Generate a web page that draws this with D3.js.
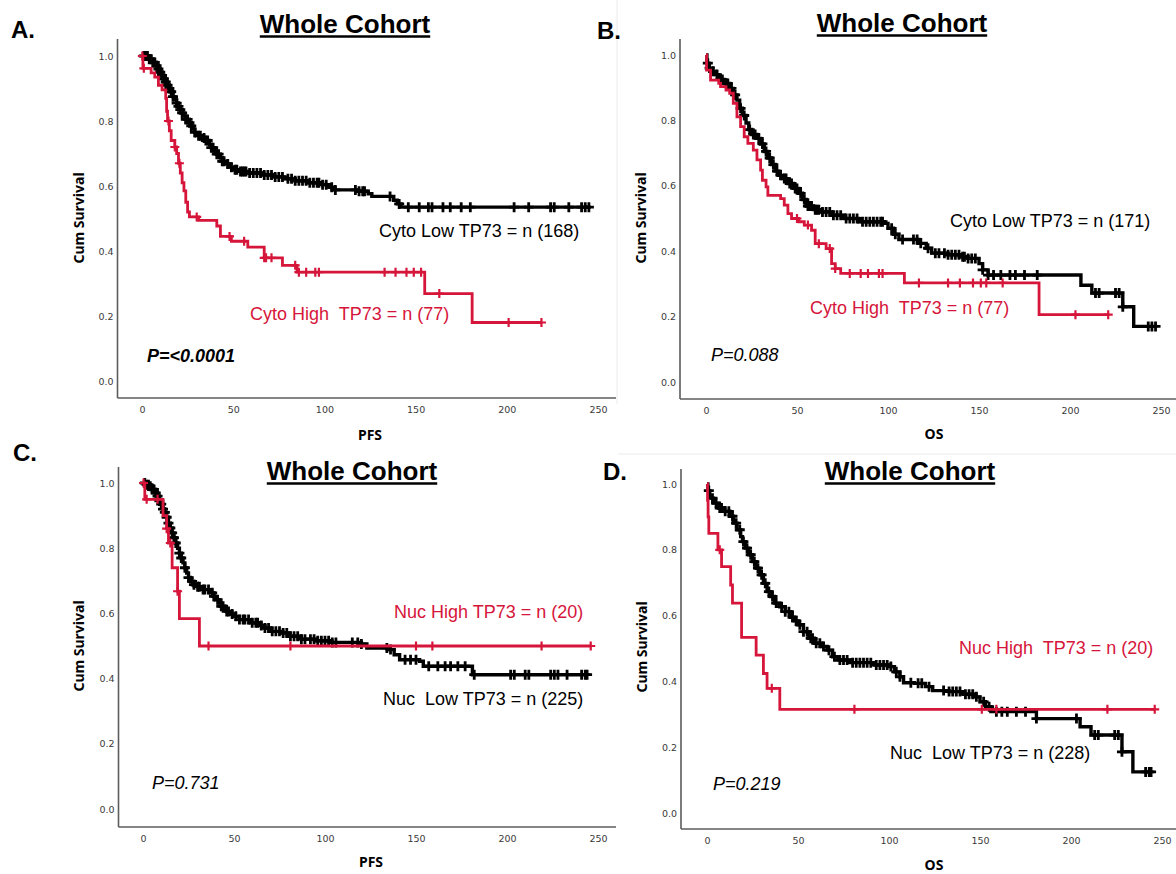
<!DOCTYPE html>
<html>
<head>
<meta charset="utf-8">
<script src="https://cdn.jsdelivr.net/npm/d3@7"></script>
<style>
  body { margin: 0; background: #fff; }
  svg { display: block; }
</style>
</head>
<body>
<div id="chart"></div>
<script>
// Axis ticks shared by all four plots
const xTicks = [0, 50, 100, 150, 200, 250];
const yTicks = [0, 0.2, 0.4, 0.6, 0.8, 1.0];

// Text
const panelLetters = ['A.', 'B.', 'C.', 'D.'];
const panelTitle = 'Whole Cohort';
const xTitles = ['PFS', 'OS', 'PFS', 'OS'];
const pValues = ['P=<0.0001', 'P=0.088', 'P=0.731', 'P=0.219'];
const lowLabels = ['Cyto Low TP73 = n (168)', 'Cyto Low TP73 = n (171)', 'Nuc  Low TP73 = n (225)', 'Nuc  Low TP73 = n (228)'];
const highLabels = ['Cyto High  TP73 = n (77)', 'Cyto High  TP73 = n (77)', 'Nuc High TP73 = n (20)', 'Nuc High  TP73 = n (20)'];

// A. Cyto TP73, PFS  -- steps are [time, survival from that time on]
const cytoLowPfsSteps = [[0, 1.0], [4, 0.99], [6, 0.98], [8, 0.97], [9, 0.96], [10, 0.95], [11, 0.94], [12, 0.93], [13, 0.92], [14, 0.91], [15, 0.90], [16, 0.89], [17, 0.875], [18, 0.865], [19, 0.855], [20, 0.845], [21, 0.835], [22, 0.825], [23, 0.815], [24, 0.805], [26, 0.795], [27, 0.785], [28, 0.775], [29, 0.765], [30, 0.755], [33, 0.748], [35, 0.74], [37, 0.728], [38, 0.718], [40, 0.706], [41, 0.698], [43, 0.686], [44, 0.676], [46, 0.668], [48, 0.658], [50, 0.65], [53, 0.645], [58, 0.64], [66, 0.634], [72, 0.628], [78, 0.622], [84, 0.616], [91, 0.61], [99, 0.604], [103, 0.596], [105, 0.588], [118, 0.584], [124, 0.576], [126, 0.568], [138, 0.556], [140, 0.545], [142, 0.535]];
const cytoLowPfsCensored = [1, 2, 3, 4, 5, 6, 7, 8, 9, 10, 11, 12, 13, 14, 15, 16, 17, 19, 20, 21, 22, 24, 25, 26, 27, 29, 31, 32, 34, 35, 36, 38, 39, 41, 42, 44, 45, 47, 49, 51, 52, 54, 55, 56, 57, 59, 61, 63, 65, 67, 69, 71, 73, 75, 77, 80, 82, 84, 86, 88, 90, 92, 94, 96, 97, 99, 101, 104, 106, 117, 119, 121, 122, 136, 141, 146, 152, 157, 159, 165, 169, 175, 180, 204, 212, 224, 226, 234, 241, 243, 245];
const cytoLowPfsEnd = 246;
const cytoHighPfsSteps = [[0, 1.0], [0.5, 0.962], [5, 0.948], [7, 0.935], [9, 0.91], [11, 0.896], [13, 0.87], [13.5, 0.83], [14, 0.8], [15, 0.77], [16, 0.74], [18, 0.72], [19, 0.7], [20, 0.67], [21, 0.64], [22, 0.61], [23, 0.585], [24, 0.55], [25, 0.52], [26, 0.505], [31, 0.494], [41, 0.477], [43, 0.445], [49, 0.43], [58, 0.412], [67, 0.379], [77, 0.356], [85, 0.335], [155, 0.269], [181, 0.18]];
const cytoHighPfsCensored = [0.2, 1, 14.5, 18, 20.5, 30, 48, 56, 67, 68, 71, 84, 86, 90, 95, 97, 133, 139, 145, 149, 153, 163, 201, 219];
const cytoHighPfsEnd = 219;

// B. Cyto TP73, OS
const cytoLowOsSteps = [[0, 1.0], [0.5, 0.975], [1.5, 0.96], [3, 0.95], [5, 0.94], [7, 0.925], [10, 0.913], [13, 0.898], [15, 0.878], [17, 0.862], [18.5, 0.837], [20, 0.815], [22, 0.792], [23.5, 0.772], [25, 0.757], [28, 0.745], [30, 0.728], [32, 0.705], [34, 0.685], [36, 0.665], [38, 0.645], [40, 0.632], [42, 0.622], [45, 0.607], [48, 0.592], [51, 0.577], [53, 0.558], [55, 0.538], [59, 0.527], [63, 0.52], [69, 0.51], [76, 0.5], [84, 0.49], [98, 0.485], [100, 0.47], [103, 0.452], [106, 0.436], [117, 0.424], [121, 0.409], [124, 0.394], [133, 0.389], [140, 0.383], [144, 0.378], [150, 0.362], [152, 0.343], [155, 0.327], [206, 0.296], [212, 0.272], [229, 0.23], [235, 0.17]];
const cytoLowOsCensored = [1, 2, 4, 6, 8, 9, 11, 12, 14, 16, 19, 21, 24, 26, 27, 29, 31, 33, 35, 37, 39, 41, 43, 44, 46, 47, 49, 50, 52, 54, 56, 57, 58, 60, 61, 62, 64, 66, 68, 70, 72, 74, 77, 79, 81, 83, 86, 88, 90, 92, 94, 96, 97, 102, 104, 108, 114, 116, 118, 122, 126, 128, 131, 133, 135, 137, 139, 141, 142, 144, 146, 148, 152, 155, 158, 162, 167, 170, 175, 182, 214, 216, 225, 227, 229, 243, 245, 247];
const cytoLowOsEnd = 248;
const cytoHighOsSteps = [[0, 1.0], [0.3, 0.954], [2.5, 0.923], [7, 0.913], [8, 0.903], [11, 0.893], [13, 0.883], [15, 0.852], [17, 0.811], [19, 0.781], [21, 0.75], [23, 0.73], [26, 0.709], [28, 0.679], [30, 0.648], [31, 0.617], [33, 0.597], [34, 0.571], [41, 0.561], [43, 0.541], [45, 0.515], [47, 0.5], [51, 0.49], [54, 0.48], [58, 0.464], [60, 0.423], [66, 0.408], [69, 0.362], [71, 0.347], [74, 0.332], [109, 0.303], [183, 0.206]];
const cytoHighOsCensored = [50, 56, 62, 68, 71, 79, 85, 89, 95, 97, 117, 133, 139.5, 146.7, 151, 154, 163, 203, 221];
const cytoHighOsEnd = 221;

// C. Nuc TP73, PFS
const nucLowPfsSteps = [[0, 1.0], [2, 0.995], [4, 0.99], [5, 0.98], [7, 0.97], [8, 0.96], [9, 0.945], [10, 0.935], [11, 0.92], [12, 0.91], [13, 0.895], [14, 0.877], [15, 0.862], [16, 0.847], [17, 0.832], [18, 0.816], [19, 0.8], [20, 0.785], [21, 0.77], [22, 0.755], [23, 0.74], [24, 0.724], [25, 0.71], [26, 0.698], [28, 0.688], [30, 0.682], [33, 0.673], [37, 0.663], [39, 0.652], [40, 0.642], [42, 0.632], [43, 0.622], [45, 0.614], [46, 0.606], [48, 0.598], [50, 0.591], [53, 0.581], [59, 0.571], [64, 0.563], [67, 0.555], [70, 0.545], [76, 0.54], [80, 0.53], [87, 0.521], [95, 0.516], [103, 0.511], [120, 0.506], [123, 0.494], [135, 0.489], [138, 0.473], [141, 0.458], [152, 0.453], [154, 0.438], [181, 0.412]];
const nucLowPfsCensored = [1, 2, 3, 4, 5, 6, 7, 8, 9, 10, 11, 12, 13, 14, 15, 16, 17, 18, 20, 21, 23, 25, 27, 28, 30, 31, 33, 34, 36, 38, 39, 41, 43, 44, 46, 47, 49, 51, 53, 55, 56, 58, 60, 62, 63, 65, 67, 69, 71, 73, 75, 77, 79, 81, 83, 85, 87, 89, 92, 94, 96, 98, 100, 102, 104, 106, 115, 118, 120, 134, 136, 144, 147, 150, 157, 162, 166, 169, 173, 177, 182, 202, 204, 210, 212, 224, 226, 228, 233, 241, 243, 244];
const nucLowPfsEnd = 244;
const nucHighPfsSteps = [[0, 1.0], [1, 0.95], [11, 0.9], [13, 0.86], [14, 0.816], [16, 0.74], [19, 0.668], [20, 0.584], [31, 0.5]];
const nucHighPfsCensored = [0.3, 2, 8, 13, 15, 19, 36, 81, 150, 159, 219, 246];
const nucHighPfsEnd = 246;

// D. Nuc TP73, OS
const nucLowOsSteps = [[0, 1.0], [0.5, 0.98], [1.5, 0.957], [3.5, 0.942], [6.5, 0.927], [9.5, 0.917], [12.5, 0.902], [14.5, 0.881], [16.5, 0.861], [18.5, 0.84], [19.5, 0.825], [21, 0.805], [23, 0.785], [25, 0.764], [27, 0.744], [29, 0.724], [31, 0.698], [33, 0.673], [35, 0.658], [37, 0.638], [40, 0.627], [43, 0.612], [46, 0.595], [48, 0.584], [50, 0.572], [53, 0.551], [56, 0.531], [59, 0.516], [63, 0.506], [66, 0.495], [69, 0.475], [72, 0.465], [79, 0.457], [92, 0.45], [100, 0.445], [103, 0.429], [106, 0.414], [108, 0.396], [114, 0.394], [120, 0.384], [124, 0.372], [133, 0.369], [141, 0.361], [147, 0.353], [150, 0.338], [153, 0.323], [156, 0.308], [181, 0.287], [205, 0.262], [211, 0.237], [228, 0.186], [234, 0.125]];
const nucLowOsCensored = [1, 3, 5, 7, 8, 10, 12, 14, 16, 18, 20, 22, 24, 26, 28, 30, 32, 34, 36, 38, 41, 43, 45, 47, 49, 51, 53, 55, 57, 58, 60, 62, 64, 67, 70, 73, 75, 77, 80, 82, 84, 86, 88, 90, 93, 95, 97, 99, 101, 104, 106, 112, 116, 118, 122, 130, 133, 135, 137, 139, 142, 144, 146, 148, 152, 155, 159, 162, 165, 170, 175, 181, 203, 213, 215, 224, 226, 228, 241, 243, 244];
const nucLowOsEnd = 244;
const nucHighOsSteps = [[0, 1.0], [0.3, 0.95], [0.6, 0.9], [1, 0.85], [6, 0.8], [8, 0.749], [13, 0.693], [14, 0.638], [19, 0.534], [27, 0.48], [31, 0.424], [33, 0.379], [40, 0.315]];
const nucHighOsCensored = [7, 35.6, 81, 151, 159, 220, 246];
const nucHighOsEnd = 246;

const BLACK = '#000000';
const RED = '#d6153a';

// Layout of the four plots (pixels)
const panels = [
  { letterX: 11, letterY: 38, titleX: 345, titleY: 33, x0: 142, x250: 598, yZero: 381, yOne: 56,
    axisX: 117.5, axisTop: 39, axisY: 398, axisRight: 616, xTitleX: 370, xTitleY: 435, yTitleX: 79, yTitleY: 218,
    low: { steps: cytoLowPfsSteps, cens: cytoLowPfsCensored, end: cytoLowPfsEnd, lx: 379, ly: 237 },
    high: { steps: cytoHighPfsSteps, cens: cytoHighPfsCensored, end: cytoHighPfsEnd, lx: 250, ly: 320 },
    pX: 147, pY: 362, pBold: true },
  { letterX: 597, letterY: 39, titleX: 902, titleY: 32, x0: 706, x250: 1161, yZero: 382, yOne: 55,
    axisX: 680, axisTop: 39, axisY: 399, axisRight: 1176, xTitleX: 934, xTitleY: 434, yTitleX: 641, yTitleY: 218,
    low: { steps: cytoLowOsSteps, cens: cytoLowOsCensored, end: cytoLowOsEnd, lx: 950, ly: 227 },
    high: { steps: cytoHighOsSteps, cens: cytoHighOsCensored, end: cytoHighOsEnd, lx: 810, ly: 314 },
    pX: 711, pY: 361, pBold: false },
  { letterX: 13, letterY: 461, titleX: 352, titleY: 480, x0: 143, x250: 598, yZero: 809, yOne: 483,
    axisX: 118.5, axisTop: 467, axisY: 827, axisRight: 616, xTitleX: 371, xTitleY: 862, yTitleX: 79, yTitleY: 646,
    low: { steps: nucLowPfsSteps, cens: nucLowPfsCensored, end: nucLowPfsEnd, lx: 383, ly: 705 },
    high: { steps: nucHighPfsSteps, cens: nucHighPfsCensored, end: nucHighPfsEnd, lx: 394, ly: 618 },
    pX: 152, pY: 789, pBold: false },
  { letterX: 603, letterY: 480, titleX: 910, titleY: 480, x0: 707, x250: 1162, yZero: 813, yOne: 484,
    axisX: 681, axisTop: 469, axisY: 829, axisRight: 1176, xTitleX: 934, xTitleY: 865, yTitleX: 642, yTitleY: 647,
    low: { steps: nucLowOsSteps, cens: nucLowOsCensored, end: nucLowOsEnd, lx: 890, ly: 759 },
    high: { steps: nucHighOsSteps, cens: nucHighOsCensored, end: nucHighOsEnd, lx: 959, ly: 654 },
    pX: 713, pY: 790, pBold: false },
];

const svg = d3.select('#chart')
  .append('svg')
  .attr('width', 1176)
  .attr('height', 874);

// faint edges of the pasted panels
svg.append('line').attr('x1', 617).attr('x2', 617).attr('y1', 0).attr('y2', 404)
  .attr('stroke', '#ececec').attr('stroke-width', 1);
svg.append('line').attr('x1', 618).attr('x2', 1176).attr('y1', 454).attr('y2', 454)
  .attr('stroke', '#ececec').attr('stroke-width', 1);

// survival value of a step curve at time t
function survivalAt(steps, t) {
  let s = steps[0][1];
  steps.forEach(([st, sv]) => { if (st <= t) s = sv; });
  return s;
}

function drawPanel(p, i) {
  const x = d3.scaleLinear().domain([0, 250]).range([p.x0, p.x250]);
  const y = d3.scaleLinear().domain([0, 1]).range([p.yZero, p.yOne]);
  const g = svg.append('g');

  // axis lines
  g.append('line')
    .attr('x1', p.axisX).attr('x2', p.axisX)
    .attr('y1', p.axisTop).attr('y2', p.axisY)
    .attr('stroke', '#5c5c5c').attr('stroke-width', 1.6);
  g.append('line')
    .attr('x1', p.axisX).attr('x2', p.axisRight)
    .attr('y1', p.axisY).attr('y2', p.axisY)
    .attr('stroke', '#5c5c5c').attr('stroke-width', 1.6);

  // tick labels
  const gx = g.append('g')
    .attr('transform', `translate(0,${p.axisY})`)
    .call(d3.axisBottom(x).tickValues(xTicks).tickSize(0).tickPadding(8));
  const gy = g.append('g')
    .attr('transform', `translate(${p.axisX},0)`)
    .call(d3.axisLeft(y).tickValues(yTicks).tickSize(0).tickPadding(4).tickFormat(d3.format('.1f')));
  [gx, gy].forEach((ax) => {
    ax.select('.domain').remove();
    ax.attr('font-family', null).attr('font-size', null);
    ax.selectAll('text')
      .attr('font-family', '"DejaVu Sans", sans-serif')
      .attr('font-size', 9.5)
      .attr('fill', '#3a3a3a');
  });

  // axis titles
  g.append('text')
    .attr('x', p.xTitleX).attr('y', p.xTitleY).attr('dy', '0.35em')
    .attr('text-anchor', 'middle')
    .attr('font-family', '"Noto Sans", sans-serif')
    .attr('font-weight', 'bold').attr('font-size', 14)
    .text(xTitles[i]);
  g.append('text')
    .attr('transform', `translate(${p.yTitleX},${p.yTitleY}) rotate(-90)`)
    .attr('dy', '0.35em')
    .attr('text-anchor', 'middle')
    .attr('font-family', '"Noto Sans", sans-serif')
    .attr('font-weight', 'bold').attr('font-size', 14)
    .text('Cum Survival');

  // curves: low (black) first, high (red) on top
  [[p.low, BLACK, 3.4, 5, 2.8], [p.high, RED, 2.8, 4.5, 2.2]].forEach(([c, color, w, arm, mw]) => {
    const pts = c.steps.concat([[c.end, c.steps[c.steps.length - 1][1]]]);
    g.append('path')
      .datum(pts)
      .attr('fill', 'none')
      .attr('stroke', color)
      .attr('stroke-width', w)
      .attr('d', d3.line()
        .curve(d3.curveStepAfter)
        .x((d) => x(d[0]))
        .y((d) => y(d[1])));
    g.append('g')
      .selectAll('path')
      .data(c.cens)
      .join('path')
      .attr('transform', (t) => `translate(${x(t)},${y(survivalAt(c.steps, t))})`)
      .attr('d', `M${-arm},0H${arm}M0,${-arm}V${arm}`)
      .attr('stroke', color)
      .attr('stroke-width', mw)
      .attr('fill', 'none');
  });

  // group labels
  const labelFont = 'Arial, "Liberation Sans", sans-serif';
  g.append('text')
    .attr('x', p.low.lx).attr('y', p.low.ly)
    .attr('font-family', labelFont).attr('font-size', 18)
    .attr('fill', BLACK).style('white-space', 'pre')
    .text(lowLabels[i]);
  g.append('text')
    .attr('x', p.high.lx).attr('y', p.high.ly)
    .attr('font-family', labelFont).attr('font-size', 18)
    .attr('fill', RED).style('white-space', 'pre')
    .text(highLabels[i]);

  // p value
  g.append('text')
    .attr('x', p.pX).attr('y', p.pY)
    .attr('font-family', labelFont).attr('font-size', 18)
    .attr('font-style', 'italic')
    .attr('font-weight', p.pBold ? 'bold' : 'normal')
    .text(pValues[i]);

  // panel letter
  g.append('text')
    .attr('x', p.letterX).attr('y', p.letterY)
    .attr('font-family', labelFont).attr('font-size', 24)
    .attr('font-weight', 'bold')
    .text(panelLetters[i]);

  // underlined title
  const title = g.append('text')
    .attr('x', p.titleX).attr('y', p.titleY)
    .attr('text-anchor', 'middle')
    .attr('font-family', labelFont).attr('font-size', 26)
    .attr('font-weight', 'bold')
    .text(panelTitle);
  const tw = title.node().getComputedTextLength();
  g.append('line')
    .attr('x1', p.titleX - tw / 2).attr('x2', p.titleX + tw / 2)
    .attr('y1', p.titleY + 3.5).attr('y2', p.titleY + 3.5)
    .attr('stroke', '#000').attr('stroke-width', 2.6);
}

panels.forEach(drawPanel);
</script>
</body>
</html>
